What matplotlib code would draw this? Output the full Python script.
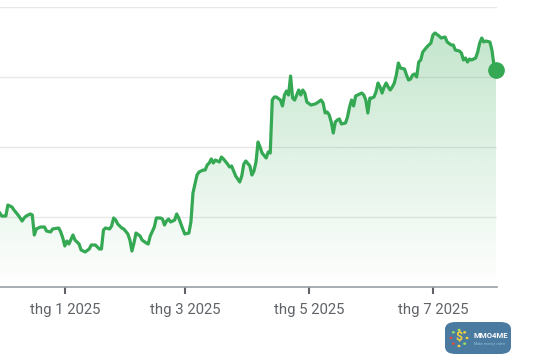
import matplotlib
matplotlib.use("Agg")
import matplotlib.pyplot as plt
import numpy as np
import pandas as pd
from matplotlib.patches import FancyBboxPatch, Circle

plt.rcParams['font.family'] = ['Roboto', 'DejaVu Sans']

dates = [
    "2024-11-30", "2024-12-01", "2024-12-03", "2024-12-04", "2024-12-06", "2024-12-07",
    "2024-12-09", "2024-12-11", "2024-12-12", "2024-12-13", "2024-12-15", "2024-12-16",
    "2024-12-17", "2024-12-18", "2024-12-20", "2024-12-22", "2024-12-23", "2024-12-25",
    "2024-12-26", "2024-12-29", "2024-12-30", "2024-12-31", "2025-01-01", "2025-01-02",
    "2025-01-03", "2025-01-05", "2025-01-06", "2025-01-08", "2025-01-09", "2025-01-11",
    "2025-01-13", "2025-01-14", "2025-01-16", "2025-01-18", "2025-01-19", "2025-01-20",
    "2025-01-21", "2025-01-23", "2025-01-24", "2025-01-25", "2025-01-26", "2025-01-27",
    "2025-01-29", "2025-01-30", "2025-02-01", "2025-02-02", "2025-02-03", "2025-02-04",
    "2025-02-05", "2025-02-07", "2025-02-08", "2025-02-10", "2025-02-11", "2025-02-12",
    "2025-02-14", "2025-02-15", "2025-02-17", "2025-02-18", "2025-02-19", "2025-02-20",
    "2025-02-21", "2025-02-22", "2025-02-24", "2025-02-25", "2025-02-26", "2025-02-28",
    "2025-03-01", "2025-03-03", "2025-03-04", "2025-03-05", "2025-03-07", "2025-03-08",
    "2025-03-10", "2025-03-11", "2025-03-12", "2025-03-13", "2025-03-14", "2025-03-15",
    "2025-03-16", "2025-03-18", "2025-03-19", "2025-03-20", "2025-03-22", "2025-03-23",
    "2025-03-24", "2025-03-25", "2025-03-26", "2025-03-28", "2025-03-29", "2025-03-30",
    "2025-03-31", "2025-04-02", "2025-04-03", "2025-04-04", "2025-04-05", "2025-04-06",
    "2025-04-07", "2025-04-08", "2025-04-10", "2025-04-11", "2025-04-12", "2025-04-13",
    "2025-04-14", "2025-04-15", "2025-04-17", "2025-04-18", "2025-04-19", "2025-04-20",
    "2025-04-21", "2025-04-22", "2025-04-23", "2025-04-24", "2025-04-25", "2025-04-26",
    "2025-04-27", "2025-04-28", "2025-04-29", "2025-04-30", "2025-05-02", "2025-05-04",
    "2025-05-05", "2025-05-07", "2025-05-08", "2025-05-09", "2025-05-10", "2025-05-11",
    "2025-05-12", "2025-05-13", "2025-05-14", "2025-05-15", "2025-05-16", "2025-05-17",
    "2025-05-19", "2025-05-20", "2025-05-21", "2025-05-22", "2025-05-23", "2025-05-24",
    "2025-05-25", "2025-05-27", "2025-05-28", "2025-05-29", "2025-05-30", "2025-05-31",
    "2025-06-01", "2025-06-02", "2025-06-03", "2025-06-04", "2025-06-05", "2025-06-06",
    "2025-06-07", "2025-06-08", "2025-06-09", "2025-06-10", "2025-06-11", "2025-06-12",
    "2025-06-13", "2025-06-14", "2025-06-15", "2025-06-17", "2025-06-18", "2025-06-19",
    "2025-06-20", "2025-06-21", "2025-06-22", "2025-06-23", "2025-06-24", "2025-06-25",
    "2025-06-26", "2025-06-28", "2025-06-29", "2025-06-30", "2025-07-01", "2025-07-02",
    "2025-07-04", "2025-07-05", "2025-07-07", "2025-07-08", "2025-07-10", "2025-07-11",
    "2025-07-12", "2025-07-14", "2025-07-15", "2025-07-16", "2025-07-17", "2025-07-18",
    "2025-07-19", "2025-07-20", "2025-07-22", "2025-07-23", "2025-07-24", "2025-07-25",
    "2025-07-26", "2025-07-27", "2025-07-29", "2025-07-30", "2025-07-31", "2025-08-01",
]

values = [
    105.7, 101.4, 101.4, 117.1, 114.3, 110.0,
    102.9, 94.3, 98.6, 101.4, 104.3, 102.9,
    74.3, 82.9, 85.7, 85.7, 80.0, 78.6,
    82.9, 84.3, 78.6, 70.0, 58.6, 65.7,
    61.4, 74.3, 67.1, 61.4, 52.9, 50.0,
    54.3, 60.0, 60.0, 54.3, 54.3, 81.4,
    84.3, 82.9, 87.1, 98.6, 95.7, 90.0,
    84.3, 82.9, 75.7, 67.1, 51.4, 62.9,
    77.1, 72.9, 67.1, 62.9, 61.4, 72.9,
    85.7, 98.6, 98.6, 97.1, 88.6, 94.3,
    97.1, 92.9, 95.7, 104.3, 98.6, 82.9,
    75.7, 77.1, 92.9, 134.3, 160.0, 164.3,
    167.1, 167.1, 174.3, 177.1, 182.9, 177.1,
    181.4, 178.6, 185.7, 182.9, 175.7, 171.4,
    172.9, 165.7, 158.6, 150.0, 158.6, 175.7,
    180.0, 172.9, 160.0, 165.7, 178.6, 207.1,
    200.0, 191.4, 184.3, 192.9, 191.4, 267.1,
    271.4, 271.4, 267.1, 258.6, 274.3, 280.0,
    274.3, 301.4, 270.0, 267.1, 274.3, 281.4,
    274.3, 281.4, 277.1, 264.3, 260.0, 261.4,
    262.9, 267.1, 262.9, 248.6, 250.0, 245.7,
    235.7, 220.0, 235.7, 238.6, 240.0, 232.9,
    234.3, 242.9, 257.1, 267.1, 258.6, 272.9,
    274.3, 277.1, 274.3, 267.1, 248.6, 270.0,
    270.0, 271.4, 278.6, 291.4, 285.7, 277.1,
    285.7, 291.4, 285.7, 281.4, 285.7, 291.4,
    302.9, 320.0, 312.9, 311.4, 302.9, 295.7,
    297.1, 302.9, 304.3, 300.0, 321.4, 324.3,
    335.7, 342.9, 345.7, 348.6, 360.0, 362.9,
    358.6, 355.7, 357.1, 350.0, 345.7, 345.7,
    338.6, 337.1, 334.3, 324.3, 327.1, 321.4,
    325.7, 324.3, 327.1, 335.7, 348.6, 355.7,
    350.0, 351.4, 350.0, 338.6, 317.1, 310.0,
]

tick_dates = ["2025-01-01", "2025-03-01", "2025-05-01", "2025-07-01"]
tick_labels = ["thg 1 2025", "thg 3 2025", "thg 5 2025", "thg 7 2025"]
grid_values = [100, 200, 300, 400]

x = pd.to_datetime(dates)
y = np.array(values)

W, H = 534, 362
fig = plt.figure(figsize=(W / 100, H / 100), dpi=100)
ax = fig.add_axes([0, (H - 287) / H, 497 / W, 280 / H])

green = "#34a853"
ax.set_xlim(pd.Timestamp("2024-11-30 03:00"), pd.Timestamp("2025-08-01 12:00"))
ax.set_ylim(0, 400)

# gradient fill under the line
poly = ax.fill_between(x, y, 0, color="none", lw=0)
grad = np.zeros((256, 2, 4))
rgb = matplotlib.colors.to_rgb(green)
grad[:, :, 0] = rgb[0]
grad[:, :, 1] = rgb[1]
grad[:, :, 2] = rgb[2]
alpha = np.linspace(0.32, 0.0, 256)
grad[:, :, 3] = alpha[:, None]
xl = ax.get_xlim()
im = ax.imshow(grad, extent=[xl[0], xl[1], 0, 400], aspect="auto",
               origin="upper", zorder=1, interpolation="bilinear")
path = poly.get_paths()[0]
im.set_clip_path(path, transform=ax.transData)

ax.plot(x, y, color=green, lw=2.3, zorder=3, solid_joinstyle="round")
ax.plot(x[-1:], y[-1:], "o", color=green, ms=11, zorder=4, clip_on=False)

for g in grid_values:
    ax.axhline(g, color="#e8e8e8", lw=1, zorder=0)

for s in ["top", "right", "left"]:
    ax.spines[s].set_visible(False)
ax.spines["bottom"].set_color("#9aa0a6")
ax.spines["bottom"].set_linewidth(1.2)
ax.set_yticks([])
ax.set_xticks(pd.to_datetime(tick_dates))
ax.set_xticklabels(tick_labels)
ax.tick_params(axis="x", length=5, width=1.5, color="#5f6368",
               labelsize=10.7, labelcolor="#5f6368", pad=6.5)
ax.set_facecolor("white")

# watermark badge
badge = FancyBboxPatch((445 / W, (H - 354) / H), 66 / W, 32 / H,
                       boxstyle="round,pad=0,rounding_size=0.02",
                       transform=fig.transFigure, facecolor="#4a7aa0",
                       edgecolor="none", zorder=10)
fig.add_artist(badge)
cx, cy = 459, 338
ring_cols = ["#f4d03f", "#f4d03f", "#9be15d", "#9be15d", "#e74c3c", "#e74c3c",
             "#f4d03f", "#9be15d"]
for i, ang in enumerate(np.linspace(0, 2 * np.pi, 8, endpoint=False)):
    fig.add_artist(Circle(((cx + 8 * np.cos(ang)) / W, (H - cy + 8 * np.sin(ang)) / H),
                          0.8 / W, transform=fig.transFigure,
                          color=ring_cols[i], zorder=11))
fig.text(cx / W, (H - cy) / H, "$", color="#f4d03f", fontsize=9,
         fontweight="bold", ha="center", va="center", zorder=11)
fig.text(474 / W, (H - 336) / H, "MMO4ME", color="white", fontsize=5.6,
         fontweight="bold", ha="left", va="center", zorder=11)
fig.text(474 / W, (H - 344) / H, "Make money online", color="#8fc3d6",
         fontsize=2.6, ha="left", va="center", zorder=11)

fig.savefig("out.png", dpi=100, facecolor="white")
